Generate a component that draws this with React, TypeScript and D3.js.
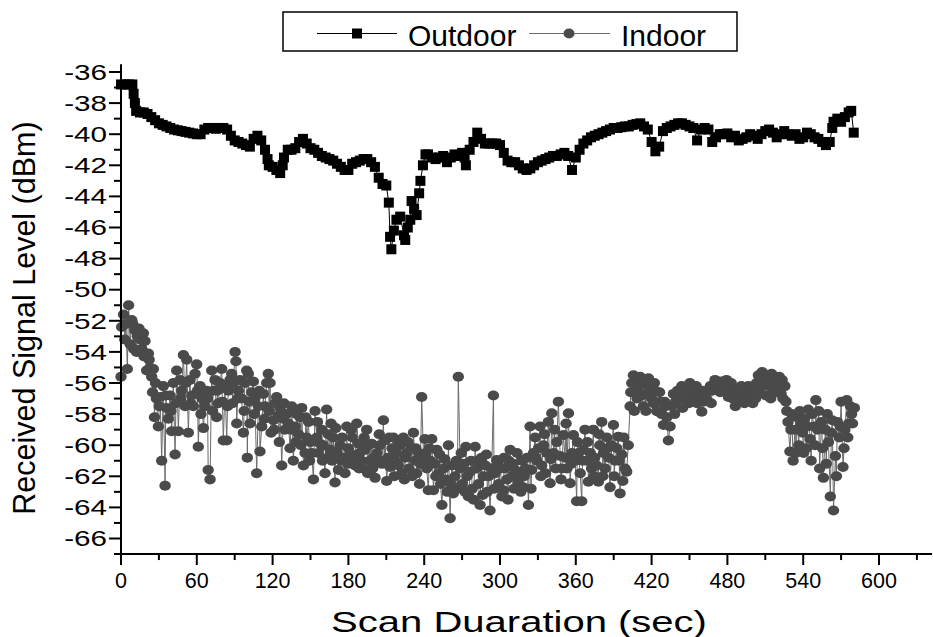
import React from "react";
import * as d3 from "d3";

const outdoorPoints: [number, number][] = [
  [0,-36.8],[3,-36.8],[6,-36.8],[9,-36.8],[10,-37.4],[11,-38.0],[12,-38.5],[15,-38.6],[18,-38.6],[21,-38.7],
  [24,-38.9],[27,-39.1],[30,-39.3],[33,-39.4],[36,-39.5],[39,-39.6],[42,-39.7],[45,-39.75],[48,-39.8],[51,-39.85],
  [54,-39.9],[57,-39.95],[60,-40.0],[63,-40.0],[66,-39.7],[69,-39.6],[72,-39.6],[75,-39.65],[78,-39.6],[81,-39.6],
  [84,-39.7],[87,-40.1],[90,-40.4],[93,-40.5],[96,-40.6],[99,-40.7],[102,-40.8],[105,-40.3],[108,-40.1],[111,-40.4],
  [114,-41.0],[116,-41.6],[117,-42.0],[120,-42.1],[123,-42.3],[126,-42.5],[128,-42.0],[129,-41.5],[132,-41.0],[135,-41.0],
  [138,-40.9],[141,-40.5],[144,-40.3],[147,-40.6],[150,-40.9],[153,-41.0],[156,-41.2],[159,-41.4],[162,-41.5],[165,-41.6],
  [168,-41.7],[171,-41.9],[174,-42.1],[177,-42.3],[180,-42.3],[183,-41.9],[186,-41.8],[189,-41.7],[192,-41.6],[195,-41.6],
  [198,-41.8],[201,-42.1],[204,-42.8],[207,-43.2],[210,-43.3],[212,-44.4],[213,-46.6],[214,-47.4],[216,-46.2],[218,-45.5],
  [221,-45.3],[224,-46.5],[225,-46.8],[227,-46.0],[229,-45.5],[230,-44.3],[232,-44.8],[234,-45.2],[236,-43.8],[237,-43.0],
  [239,-42.0],[241,-41.3],[243,-41.3],[246,-41.5],[249,-41.6],[252,-41.5],[255,-41.4],[258,-41.8],[261,-41.5],[264,-41.3],
  [267,-41.4],[270,-41.2],[272,-41.5],[273,-42.0],[276,-41.0],[279,-40.5],[282,-39.9],[285,-40.3],[288,-40.6],[291,-40.6],
  [294,-40.6],[297,-40.6],[300,-40.7],[303,-41.2],[306,-41.7],[309,-41.8],[312,-41.8],[315,-42.0],[318,-42.2],[321,-42.3],
  [324,-42.2],[327,-42.0],[330,-41.8],[333,-41.7],[336,-41.6],[339,-41.5],[342,-41.4],[345,-41.4],[348,-41.3],[351,-41.2],
  [354,-41.4],[357,-42.3],[360,-41.5],[363,-41.0],[366,-40.6],[369,-40.4],[372,-40.2],[375,-40.1],[378,-40.0],[381,-39.9],
  [384,-39.8],[387,-39.7],[390,-39.6],[393,-39.6],[396,-39.55],[399,-39.5],[402,-39.5],[405,-39.4],[408,-39.35],[411,-39.3],
  [414,-39.5],[417,-39.7],[420,-40.5],[423,-41.1],[426,-40.8],[429,-39.8],[432,-39.6],[435,-39.5],[438,-39.4],[441,-39.3],
  [444,-39.3],[447,-39.4],[450,-39.5],[453,-39.6],[456,-40.4],[459,-39.7],[462,-39.6],[465,-39.7],[468,-40.5],[471,-40.2],
  [474,-40.0],[477,-40.0],[480,-39.95],[483,-40.2],[486,-40.1],[489,-40.4],[492,-40.3],[495,-40.2],[498,-40.0],[501,-40.1],
  [504,-40.3],[507,-40.0],[510,-39.8],[513,-39.7],[516,-39.9],[519,-40.2],[522,-40.0],[525,-39.8],[528,-40.0],[531,-40.1],
  [534,-40.0],[537,-40.3],[540,-40.2],[543,-39.9],[546,-40.0],[549,-40.2],[552,-40.3],[555,-40.5],[558,-40.7],[561,-40.5],
  [563,-39.6],[564,-39.2],[567,-39.0],[570,-39.2],[573,-38.9],[576,-38.6],[578,-38.5],[580,-39.9]
];

const indoorPoints: [number, number][] = [
  [0,-55.6],[0.5,-52.4],[2,-51.6],[3,-53.2],[5,-55.1],[6,-51.0],[8.5,-51.95],[10,-53.8],[11,-52.6],[13,-53.0],
  [15,-53.2],[16.5,-53.8],[17.7,-52.8],[19,-53.3],[20.3,-55.2],[21.7,-54.1],[23,-55.0],[24.3,-55.6],[25,-56.6],[25.6,-55.1],
  [26.5,-58.2],[28,-57.0],[29.6,-58.8],[31,-56.9],[32.2,-61.0],[33.5,-56.2],[34.9,-62.6],[36.2,-57.6],[37.5,-58.3],[38.8,-56.8],
  [40.1,-59.1],[41.4,-56.0],[42.8,-60.6],[44.1,-55.2],[45.4,-59.1],[46.7,-55.8],[48,-56.5],[49.4,-54.2],[50.7,-57.5],[52,-54.5],
  [53.3,-59.2],[54.6,-55.8],[56,-56.8],[57.3,-57.5],[58.6,-55.4],[59.9,-54.8],[61.2,-60.1],[62.6,-56.2],[64,-57.0],[65.2,-58.9],
  [66.5,-57.5],[67.8,-56.5],[69,-61.6],[70.5,-62.2],[71.8,-55.2],[73,-56.5],[74.4,-55.8],[75.7,-58.2],[77,-57.3],[78.5,-56.0],
  [79.7,-55.1],[81,-59.7],[82.3,-56.3],[83.7,-59.7],[85,-56.5],[86.3,-55.8],[87.6,-55.4],[89,-56.0],[90.3,-54.0],[91,-54.6],
  [91.6,-58.6],[93,-56.5],[94.2,-55.8],[95.5,-57.0],[96.9,-59.2],[98,-56.0],[99.5,-55.2],[100,-60.8],[100.8,-55.4],[102.1,-58.6],
  [103.5,-56.6],[104.8,-55.9],[106,-57.0],[107.4,-61.8],[108.7,-57.5],[110,-60.4],[111.4,-58.8],[112.7,-56.7],[114,-57.5],[115.3,-56.0],
  [116.6,-55.4],[118,-56.0],[118.8,-59.2],[120.6,-58.4],[122,-57.3],[123.2,-56.9],[124.6,-58.1],[126,-57.6],[127.2,-61.3],[128.5,-58.3],
  [129.8,-59.0],[131,-58.0],[132.5,-58.6],[133.8,-60.2],[135.1,-57.5],[136.4,-61.0],[137.8,-58.8],[139,-58.0],[140.5,-59.3],[141.7,-58.2],
  [143,-57.6],[144.4,-61.3],[145.7,-60.5],[147,-59.5],[148.5,-58.5],[150,-59.8],[151,-60.5],[152.3,-62.2],[153.6,-57.8],[154.9,-59.5],
  [156,-60.5],[157.5,-59.9],[158.9,-59.0],[160,-60.0],[161.5,-61.8],[162.8,-57.7],[164,-59.3],[165.5,-60.3],[167,-61.0],[168,-59.5],
  [169.4,-62.4],[170,-58.9],[171,-60.5],[172.1,-61.6],[173.4,-60.0],[175,-59.5],[176,-60.8],[177.3,-61.8],[178.7,-58.8],[180,-60.2],
  [181.3,-60.5],[183,-59.5],[184,-60.8],[185.2,-61.3],[186.6,-58.6],[187.9,-59.9],[189,-60.5],[190.5,-61.0],[191.8,-61.5],[193.2,-60.3],
  [194.5,-59.0],[196,-60.0],[197,-61.0],[198.4,-59.9],[200,-60.8],[201.1,-62.1],[202.5,-60.5],[203.7,-61.0],[205,-60.0],[206.5,-61.2],
  [207.7,-58.4],[209,-59.7],[210.3,-62.3],[211.5,-60.8],[213,-61.4],[214.5,-60.2],[215.6,-59.5],[217,-61.0],[218.2,-60.5],[219.5,-61.3],
  [221,-60.0],[222.2,-61.8],[223.5,-59.5],[225,-60.8],[226.2,-60.5],[228,-61.5],[229.5,-60.2],[231.5,-59.2],[232.7,-61.0],[234,-61.8],
  [235.5,-60.5],[237,-61.2],[238,-56.9],[239.5,-60.8],[240.6,-59.6],[242,-61.5],[243.3,-62.9],[245,-61.0],[246,-59.6],[247.3,-62.9],
  [248.5,-61.2],[250,-60.3],[251.5,-61.8],[253,-62.5],[254,-63.85],[255.5,-61.5],[257,-62.2],[259.2,-60.0],[260.5,-64.7],[262,-61.3],
  [263,-63.1],[264.4,-62.0],[265.5,-61.0],[267,-55.6],[268.5,-61.5],[270,-62.5],[271.5,-61.2],[273,-60.1],[274,-62.0],[275,-63.3],
  [276.5,-61.7],[278,-62.8],[280.3,-60.1],[281.5,-61.5],[283,-62.5],[284.2,-63.85],[285.5,-60.8],[287,-62.0],[288.5,-61.3],[290,-63.0],
  [291,-62.0],[292.1,-64.2],[293.5,-61.5],[294.8,-56.8],[296,-61.8],[297.4,-60.95],[299,-62.5],[300.5,-61.5],[301.5,-63.3],[302.7,-62.9],
  [304,-61.5],[305.5,-62.2],[307,-61.0],[308,-60.3],[309.5,-62.0],[311,-62.8],[312,-61.6],[313.5,-60.5],[315,-61.8],[316.5,-63.0],
  [318.5,-62.7],[320,-61.5],[321.5,-60.8],[322.5,-63.85],[323.8,-58.8],[325.1,-61.6],[326.5,-60.5],[327.8,-59.5],[329,-61.0],[330.5,-60.2],
  [331.7,-58.8],[333,-61.3],[334.5,-60.0],[336,-61.8],[337,-60.5],[338.3,-58.5],[339.6,-62.45],[341,-57.95],[342.5,-60.5],[344,-61.5],
  [345,-59.8],[346.2,-57.2],[347.6,-60.7],[349,-61.5],[350.2,-59.35],[351.5,-60.8],[353,-61.5],[354.2,-57.95],[355.5,-62.45],[357,-60.5],
  [358.1,-59.35],[359.5,-61.0],[360.7,-63.6],[362,-60.5],[363.5,-61.8],[364.7,-63.6],[366,-60.3],[367.3,-59.0],[368.5,-61.0],[370,-62.35],
  [371.5,-60.5],[372.5,-61.5],[373.9,-59.0],[375,-60.8],[376.5,-61.3],[377.9,-62.35],[379,-60.0],[380.5,-58.5],[382,-60.5],[383.2,-61.5],
  [384.5,-59.5],[386,-60.8],[387.1,-62.7],[388.5,-60.0],[389.8,-58.7],[391,-61.0],[392.5,-60.2],[393.7,-59.45],[395,-63.1],[396.4,-60.6],
  [398,-59.5],[399,-61.5],[400.3,-61.7],[401.5,-60.0],[403,-57.5],[403.5,-56.6],[404.3,-56.0],[405.6,-55.5],[407,-56.5],[408.5,-57.0],
  [410,-56.2],[410.9,-55.6],[412,-56.8],[413.5,-57.5],[414.9,-56.7],[416,-56.0],[417.5,-55.7],[419,-56.5],[420,-57.0],[421.4,-57.3],
  [423,-56.5],[424,-57.8],[425.4,-57.85],[427,-57.2],[428,-58.0],[429.4,-58.7],[431,-57.5],[432,-58.2],[433.3,-59.7],[434.6,-58.8],
  [436,-57.5],[437.3,-56.7],[439,-57.2],[440.5,-56.5],[442,-57.0],[443.9,-56.2],[445,-56.8],[446.5,-57.0],[448,-56.5],[449.5,-57.3],
  [451,-56.8],[453.1,-56.2],[454.5,-56.8],[456,-57.3],[457.5,-56.9],[459.7,-57.85],[461,-57.2],[462.5,-56.8],[463.6,-57.1],[465,-56.5],
  [466.5,-56.2],[468,-56.5],[470.2,-55.8],[471.5,-56.3],[473,-56.0],[475.5,-55.9],[477,-56.5],[478.5,-56.2],[480.8,-56.9],[482,-56.5],
  [484,-57.0],[485.5,-56.4],[487,-56.8],[488.5,-57.2],[490,-56.5],[492,-56.8],[493.5,-57.3],[495,-56.6],[496.5,-56.2],[498,-56.8],
  [500,-57.3],[501.5,-56.5],[503,-56.0],[504.5,-55.5],[506,-56.3],[507.5,-55.3],[509,-56.0],[510.5,-56.8],[512,-55.5],[513.5,-56.2],
  [515,-55.4],[516.5,-56.5],[518,-55.8],[519.5,-56.0],[521,-55.6],[522.5,-56.7],[524,-57.0],[525.5,-56.2],[527,-57.8],[528,-58.5],
  [529.5,-60.4],[531,-58.0],[532,-61.0],[533.5,-59.0],[535,-58.2],[536.5,-60.0],[538,-58.6],[539.5,-59.2],[541,-58.3],[542.5,-60.2],
  [544,-57.7],[545.5,-59.6],[547,-58.0],[548.5,-58.8],[550,-57.1],[551.5,-59.0],[553,-61.5],[554.5,-58.5],[556,-62.1],[557.5,-59.0],
  [559,-58.0],[560,-59.8],[561.5,-63.3],[563,-58.4],[564,-64.2],[565.5,-60.7],[567,-58.5],[568.5,-59.5],[570,-57.2],[571.5,-61.4],
  [573,-59.0],[574.5,-57.1],[576,-58.6],[577.5,-57.5],[579,-58.6],[580.5,-57.6]
];

// additional readings from the dense parts of the indoor cloud
const indoorDensePoints: [number, number][] = [
  [4,-52.2],[7.3,-53.5],[9.3,-52.2],[12.3,-54.0],[14.3,-52.5],[18.3,-54.3],[22.3,-54.5],[27.3,-56.0],[30.3,-57.5],[35.5,-56.8],
  [39.5,-57.8],[43.5,-57.3],[47.3,-57.0],[51.3,-56.0],[55.3,-57.3],[60.5,-56.5],[63.3,-58.0],[68.5,-57.0],[72.5,-57.8],[76.3,-56.5],
  [80.3,-57.2],[84.3,-57.5],[88.3,-57.3],[92.3,-57.0],[97.5,-57.8],
  [101.5,-57.2],[105.5,-58.0],[109.5,-56.5],[113.5,-58.3],[117.3,-57.8],[121.3,-59.0],[125.3,-59.8],[129,-57.3],[134.5,-59.0],[138.4,-59.8],
  [142.4,-60.0],[146.3,-58.2],[149.2,-61.0],[155.5,-58.5],[159.5,-61.0],[163.5,-60.8],[166.3,-58.6],[174.2,-61.0],[179.3,-61.2],[182.2,-59.0],
  [188.5,-61.5],[192.5,-59.5],[195.3,-61.8],[199.2,-61.5],[204.4,-59.3],[208.3,-61.0],[212.3,-59.5],[216.3,-62.0],[220.3,-59.8],[224.3,-62.2],
  [227.1,-59.8],[230.5,-62.0],[233.3,-60.2],[236.3,-62.5],
  [241.3,-60.5],[244.2,-60.2],[249.2,-62.0],[252.2,-60.6],[256.3,-60.9],[258.3,-63.0],[261.2,-62.5],[266.2,-62.8],[269.3,-60.5],[272.3,-63.0],
  [277.2,-61.0],[279.1,-63.5],[282.3,-61.0],[286.3,-63.2],[289.2,-60.6],[295.4,-62.8],[298.2,-61.2],[303.3,-60.8],[306.3,-63.5],[310.3,-61.2],
  [314.2,-62.4],[317.3,-61.0],[319.2,-62.0],[324.5,-62.8],[328.4,-60.8],[332.3,-62.0],[335.2,-59.3],[340.3,-60.9],[343.2,-59.0],[348.3,-62.2],
  [352.3,-58.6],[356.3,-61.2],[361.3,-59.8],[365.3,-61.0],[369.2,-59.8],[374.5,-62.0],[378.4,-59.3],[381.3,-62.0],[385.3,-60.2],[390.4,-62.0],
  [394.3,-61.0],[397.2,-62.3],
  [406.3,-57.8],[409.3,-55.8],[415.5,-57.8],[418.3,-56.3],[422.2,-56.0],[426.3,-56.6],[430.2,-57.2],[438.2,-58.0],[444.5,-57.6],[450.3,-56.0],
  [455.3,-56.2],[460.3,-56.5],[467.2,-57.3],[474.3,-56.6],[479.3,-55.8],
  [483,-56.0],[486.3,-57.5],[491,-56.2],[494.3,-57.0],[499,-56.4],[502.3,-57.0],[505.3,-56.6],[511.3,-56.0],[514.3,-57.0],[520.3,-56.6],
  [523.3,-55.8],[526.3,-57.2],[530.3,-59.0],[534.3,-60.5],[537.3,-57.8],[540.3,-60.5],[543.3,-58.8],[546.3,-61.0],[549.3,-60.0],[552.3,-57.8],
  [555.3,-60.2],[558.3,-61.2],[562.3,-59.2],[566.3,-62.0],[569.3,-58.8],[572.3,-60.2],[575.3,-59.5],[578.3,-58.0]
];

const xMajorTicks = [0, 60, 120, 180, 240, 300, 360, 420, 480, 540, 600];
const xMinorTicks = [30, 90, 150, 210, 270, 330, 390, 450, 510, 570, 630];
const yMajorTicks = [-36, -38, -40, -42, -44, -46, -48, -50, -52, -54, -56, -58, -60, -62, -64, -66];
const yMinorTicks = [-37, -39, -41, -43, -45, -47, -49, -51, -53, -55, -57, -59, -61, -63, -65];
const seriesNames = ["Outdoor", "Indoor"];
const xTitle = "Scan Duaration (sec)";
const yTitle = "Received Signal Level (dBm)";

const FONT = "'Liberation Sans', Arial, Helvetica, sans-serif";
const INDOOR_FILL = "#4a4a4a";
const INDOOR_LINE = "#6a6a6a";

export default function App() {
  const x = d3.scaleLinear().domain([0, 600]).range([121, 879]);
  const y = d3.scaleLinear().domain([-66, -36]).range([538.5, 72]);
  const axisY = y(-67);
  const axisTop = y(-35.5);
  const axisXLeft = x(-5.5);
  const axisXRight = x(642);

  const indoor = [...indoorPoints, ...indoorDensePoints].sort((a, b) => a[0] - b[0]);
  const line = d3.line<[number, number]>().x((d) => x(d[0])).y((d) => y(d[1]));
  const sq = 10;

  return (
    <svg width={933} height={637} style={{ position: "absolute", left: 0, top: 0, background: "#fff" }} fontFamily={FONT}>
      <rect x={0} y={0} width={933} height={637} fill="#fff" />
      {/* Indoor series */}
      <path d={line(indoor) || ""} fill="none" stroke={INDOOR_LINE} strokeWidth={1} />
      {indoor.map((d, i) => (
        <ellipse key={"i" + i} cx={x(d[0])} cy={y(d[1])} rx={5.7} ry={5} fill={INDOOR_FILL} />
      ))}
      {/* Outdoor series */}
      <path d={line(outdoorPoints) || ""} fill="none" stroke="#000" strokeWidth={1} />
      {outdoorPoints.map((d, i) => (
        <rect key={"o" + i} x={x(d[0]) - sq / 2} y={y(d[1]) - sq / 2} width={sq} height={sq} fill="#000" />
      ))}

      {/* Axes */}
      <line x1={axisXLeft} x2={axisXRight} y1={axisY} y2={axisY} stroke="#000" strokeWidth={2} />
      <line x1={x(0)} x2={x(0)} y1={axisTop} y2={axisY} stroke="#000" strokeWidth={2} />
      {xMajorTicks.map((t) => (
        <g key={"xm" + t}>
          <line x1={x(t)} x2={x(t)} y1={axisY} y2={axisY + 11} stroke="#000" strokeWidth={2} />
          <text x={x(t)} y={588} textAnchor="middle" fontSize={21.5} fill="#000">{t}</text>
        </g>
      ))}
      {xMinorTicks.map((t) => (
        <line key={"xn" + t} x1={x(t)} x2={x(t)} y1={axisY} y2={axisY + 6} stroke="#000" strokeWidth={2} />
      ))}
      {yMajorTicks.map((v) => (
        <g key={"ym" + v}>
          <line x1={x(0) - 12} x2={x(0)} y1={y(v)} y2={y(v)} stroke="#000" strokeWidth={2} />
          <text transform={`translate(107,${y(v)}) scale(1.38,1)`} dy="0.36em" textAnchor="end" fontSize={21.5} fill="#000">
            {v}
          </text>
        </g>
      ))}
      {yMinorTicks.map((v) => (
        <line key={"yn" + v} x1={x(0) - 7} x2={x(0)} y1={y(v)} y2={y(v)} stroke="#000" strokeWidth={2} />
      ))}

      {/* Titles */}
      <text transform={`translate(519,632) scale(1.38,1)`} textAnchor="middle" fontSize={29} fill="#000">{xTitle}</text>
      <text transform={`translate(35,318) rotate(-90)`} textAnchor="middle" fontSize={30.5} fill="#000">{yTitle}</text>

      {/* Legend */}
      <rect x={283} y={12} width={454} height={39} fill="#fff" stroke="#000" strokeWidth={1.5} />
      <line x1={317} x2={397} y1={33.5} y2={33.5} stroke="#000" strokeWidth={1} />
      <rect x={357 - 5} y={33.5 - 5} width={10} height={10} fill="#000" />
      <text x={408} y={46} fontSize={30} fill="#000">{seriesNames[0]}</text>
      <line x1={529} x2={610} y1={33.5} y2={33.5} stroke={INDOOR_LINE} strokeWidth={1} />
      <ellipse cx={569} cy={33.5} rx={5.5} ry={5} fill={INDOOR_FILL} />
      <text x={621} y={46} fontSize={30} fill="#000">{seriesNames[1]}</text>
    </svg>
  );
}
